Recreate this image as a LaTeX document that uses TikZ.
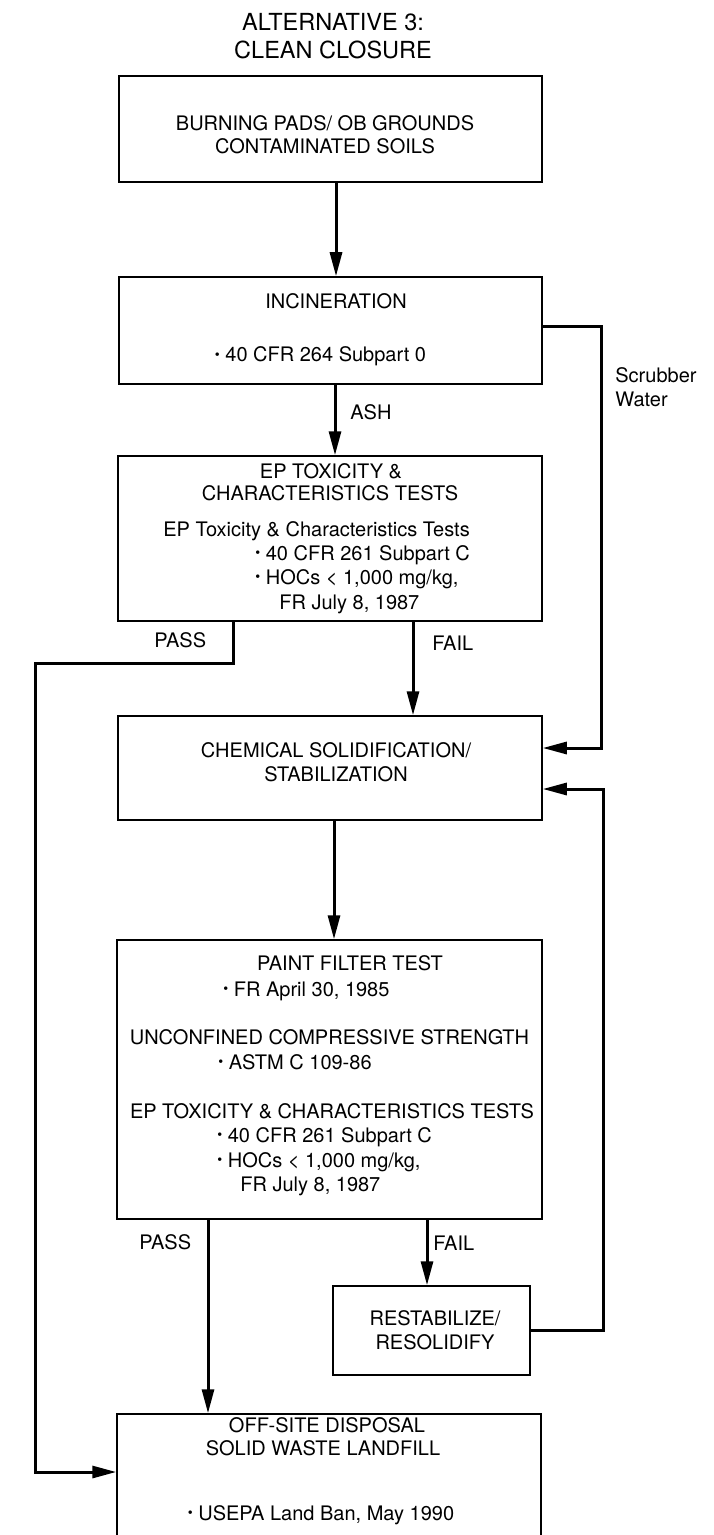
\documentclass[tikz,border=0pt]{standalone}
\usepackage{fontspec}
\setmainfont{TeX Gyre Heros}
\usetikzlibrary{arrows.meta}
\newcommand{\bul}{\raisebox{0.25ex}{\scriptsize\textbullet}\ }

\begin{document}
\begin{tikzpicture}[x=0.5pt,y=-0.5pt,
	box/.style={draw,line width=0.75pt,inner sep=0pt},
	flow/.style={line width=1.5pt,-{Triangle[length=12pt,width=6pt]}},
	txt/.style={inner sep=0pt,font=\fontsize{10}{12}\selectfont}]
			%%%%% START %%%%%
			\useasboundingbox (0,0) rectangle (713,1535);
			
			% title
			\node[txt,anchor=base,font=\fontsize{11.75}{14}\selectfont] (title1) at (333,30.5) {ALTERNATIVE 3:};
			\node[txt,anchor=base,font=\fontsize{11.75}{14}\selectfont] (title2) at (333,58.5) {CLEAN CLOSURE};
			
			% boxes
			\node[box,minimum width=211.5pt,minimum height=53pt] (burn) at (330.5,129) {};
			\node[box,minimum width=211.5pt,minimum height=53.5pt] (incin) at (330.5,330.5) {};
			\node[box,minimum width=212pt,minimum height=82.5pt] (eptest) at (330,538.5) {};
			\node[box,minimum width=212pt,minimum height=52pt] (chem) at (330,768) {};
			\node[box,minimum width=212.5pt,minimum height=139.5pt] (paint) at (329.5,1079.5) {};
			\node[box,minimum width=98.5pt,minimum height=44.5pt] (restab) at (431.5,1330.5) {};
			\node[box,minimum width=212pt,minimum height=73pt] (offsite) at (329,1487) {};
			
			% box texts
			\node[txt,anchor=base] (burn1) at (325,131) {BURNING PADS/ OB GROUNDS};
			\node[txt,anchor=base] (burn2) at (325,154) {CONTAMINATED SOILS};
			
			\node[txt,anchor=base] (incin1) at (336,309) {INCINERATION};
			\node[txt,anchor=base] (incin2) at (320.5,362) {\bul 40 CFR 264 Subpart 0};
			
			\node[txt,anchor=base] (ep1) at (331,478) {EP TOXICITY \&};
			\node[txt,anchor=base] (ep2) at (330,500) {CHARACTERISTICS TESTS};
			\node[txt,anchor=base west] (ep3) at (163,536) {EP Toxicity \& Characteristics Tests};
			\node[txt,anchor=base west] (ep4) at (255,560) {\bul 40 CFR 261 Subpart C};
			\node[txt,anchor=base west] (ep5) at (255,584) {\bul HOCs < 1,000 mg/kg,};
			\node[txt,anchor=base west] (ep6) at (279,609) {FR July 8, 1987};
			
			\node[txt,anchor=base] (chem1) at (336,757) {CHEMICAL SOLIDIFICATION/};
			\node[txt,anchor=base] (chem2) at (336,781) {STABILIZATION};
			
			\node[txt,anchor=base] (pt1) at (350,970) {PAINT FILTER TEST};
			\node[txt,anchor=base west] (pt2) at (223,996) {\bul FR April 30, 1985};
			\node[txt,anchor=base] (pt3) at (329.5,1044) {UNCONFINED COMPRESSIVE STRENGTH};
			\node[txt,anchor=base west] (pt4) at (218,1069) {\bul ASTM C 109-86};
			\node[txt,anchor=base] (pt5) at (332,1118) {EP TOXICITY \& CHARACTERISTICS TESTS};
			\node[txt,anchor=base west] (pt6) at (217,1142) {\bul 40 CFR 261 Subpart C};
			\node[txt,anchor=base west] (pt7) at (217,1167) {\bul HOCs < 1,000 mg/kg,};
			\node[txt,anchor=base west] (pt8) at (240,1191) {FR July 8, 1987};
			
			\node[txt,anchor=base] (rs1) at (435,1325) {RESTABILIZE/};
			\node[txt,anchor=base] (rs2) at (435,1349) {RESOLIDIFY};
			
			\node[txt,anchor=base] (os1) at (327,1432) {OFF-SITE DISPOSAL};
			\node[txt,anchor=base] (os2) at (323,1455) {SOLID WASTE LANDFILL};
			\node[txt,anchor=base] (os3) at (321,1520) {\bul USEPA Land Ban, May 1990};
			
			% connector labels
			\node[txt,anchor=base west] (ash) at (350,419) {ASH};
			\node[txt,anchor=base west] (pass1) at (154,647) {PASS};
			\node[txt,anchor=base west] (fail1) at (432,650) {FAIL};
			\node[txt,anchor=base west] (pass2) at (139,1249) {PASS};
			\node[txt,anchor=base west] (fail2) at (433,1250) {FAIL};
			\node[txt,anchor=base west] (scrub1) at (615,382) {Scrubber};
			\node[txt,anchor=base west] (scrub2) at (615,406) {Water};
			
			% connectors
			\draw[flow] (burn.south -| 336,0) -- (incin.north -| 336,0);
			\draw[flow] (incin.south -| 335,0) -- (eptest.north -| 335,0);
			\draw[flow] (eptest.south -| 413,0) -- (chem.north -| 413,0);
			\draw[flow] (eptest.south -| 233,0) |- (35,663) |- (offsite.west |- 0,1472);
			\draw[flow] (incin.east |- 0,327) -| (601,748) -- (chem.east |- 0,748);
			\draw[flow] (chem.south -| 334,0) -- (paint.north -| 334,0);
			\draw[flow] (paint.south -| 208,0) -- (offsite.north -| 208,0);
			\draw[flow] (paint.south -| 427,0) -- (restab.north -| 427,0);
			\draw[flow] (restab.east) -| (603,789) -- (chem.east |- 0,789);
			
			%%%%% END %%%%%
\end{tikzpicture}
\end{document}
